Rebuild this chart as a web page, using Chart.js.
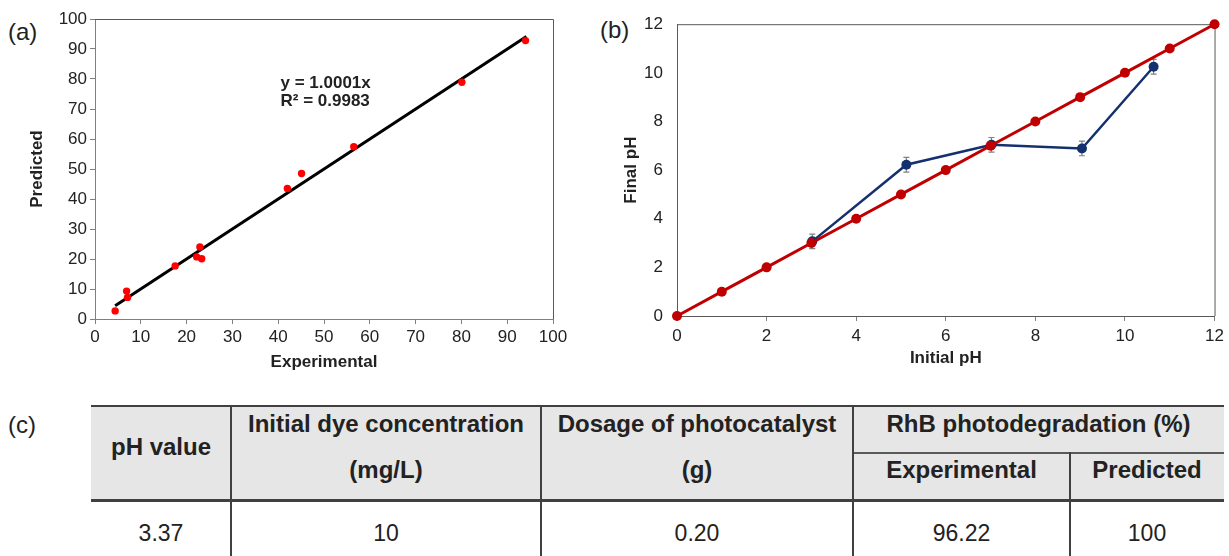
<!DOCTYPE html>
<html>
<head>
<meta charset="utf-8">
<script src="https://cdn.jsdelivr.net/npm/chart.js@4.4.1/dist/chart.umd.min.js"></script>
<style>
  body {
    margin: 0;
    width: 1229px;
    height: 556px;
    overflow: hidden;
    position: relative;
    background: #fff;
    font-family: "Liberation Sans", Arial, sans-serif;
    color: #222;
  }
  canvas { position: absolute; }
  .lbl { position: absolute; font-size: 24px; line-height: 1; }
  .t { position: absolute; white-space: nowrap; transform: translate(-50%, -50%); line-height: 1; font-size: 23px; }
  .b { font-weight: bold; font-size: 24px; }
  .line { position: absolute; background: #404040; }
</style>
</head>
<body>
<div class="lbl" style="left:8px;top:20px">(a)</div>
<div class="lbl" style="left:600px;top:18px">(b)</div>
<div class="lbl" style="left:8px;top:413px">(c)</div>

<canvas id="chartA" width="600" height="385" style="left:0;top:0"></canvas>
<canvas id="chartB" width="639" height="385" style="left:590px;top:0"></canvas>

<div id="table"></div>

<script>
// (a) predicted vs experimental
const expX = [4.4, 6.9, 7.1, 17.5, 22.2, 22.9, 23.3, 42.0, 45.1, 56.5, 80.1, 94.0];
const predY = [2.7, 9.3, 7.2, 17.7, 20.7, 24.0, 20.1, 43.5, 48.5, 57.4, 78.9, 92.8];
const fitX = [4.4, 94.2];
const fitY = [4.4, 94.2];
const ticksA = [0, 10, 20, 30, 40, 50, 60, 70, 80, 90, 100];

// (b) final pH vs initial pH
const refX = [0, 1, 2, 3, 4, 5, 6, 7, 8, 9, 10, 11, 12];
const refY = [0, 1, 2, 3, 4, 5, 6, 7, 8, 9, 10, 11, 12];
const initX = [3.02, 5.12, 7.02, 9.04, 10.64];
const finalY = [3.07, 6.22, 7.04, 6.89, 10.25];
const finalErr = [0.3, 0.3, 0.3, 0.3, 0.3];
const ticksB = [0, 2, 4, 6, 8, 10, 12];

// (c) table
const headTop = ["Initial dye concentration", "Dosage of photocatalyst", "RhB photodegradation (%)"];
const headSub = ["(mg/L)", "(g)", "Experimental", "Predicted"];
const rowVals = ["3.37", "10", "0.20", "96.22", "100"];

Chart.defaults.font.family = "'Liberation Sans', Arial, sans-serif";
Chart.defaults.color = "#222";

const frame = {
  id: "frame",
  beforeDatasetsDraw(chart) {
    const { ctx, chartArea: a } = chart;
    ctx.save();
    ctx.strokeStyle = "#595959";
    ctx.lineWidth = 1;
    ctx.beginPath();
    ctx.moveTo(a.left, a.top + 0.5);
    ctx.lineTo(a.right + 0.5, a.top + 0.5);
    ctx.lineTo(a.right + 0.5, a.bottom);
    ctx.stroke();
    ctx.restore();
  }
};

const pts = (xs, ys) => xs.map((x, i) => ({ x: x, y: ys[i] }));
const setTicks = (list) => (scale) => { scale.ticks = list.map(v => ({ value: v })); };

// equation text for chart (a)
const equation = {
  id: "equation",
  afterDatasetsDraw(chart) {
    const { ctx, scales } = chart;
    ctx.save();
    ctx.font = "bold 17px 'Liberation Sans', Arial, sans-serif";
    ctx.fillStyle = "#222";
    ctx.textBaseline = "middle";
    const x = scales.x.getPixelForValue(40.5);
    ctx.fillText("y = 1.0001x", x, scales.y.getPixelForValue(78.5));
    ctx.fillText("R\u00b2 = 0.9983", x, scales.y.getPixelForValue(72.5));
    ctx.restore();
  }
};

new Chart(document.getElementById("chartA"), {
  type: "scatter",
  data: {
    datasets: [
      {
        data: pts(expX, predY),
        backgroundColor: "#ff0000",
        borderColor: "#ff0000",
        pointRadius: 3.7,
        borderWidth: 0,
        order: 1
      },
      {
        type: "line",
        data: pts(fitX, fitY),
        borderColor: "#000",
        borderWidth: 3,
        pointRadius: 0,
        order: 2
      }
    ]
  },
  options: {
    responsive: false,
    animation: false,
    layout: { padding: { left: 0, top: 19, right: 47, bottom: 0 } },
    plugins: { legend: { display: false }, tooltip: { enabled: false } },
    scales: {
      x: {
        type: "linear",
        min: 0,
        max: 100,
        afterBuildTicks: setTicks(ticksA),
        afterFit: (s) => { s.height = 66; },
        grid: { drawOnChartArea: false, tickLength: 5, color: "#7f7f7f" },
        border: { color: "#7f7f7f" },
        ticks: { font: { size: 17 }, padding: 3, maxRotation: 0 },
        title: { display: true, text: "Experimental", font: { size: 17, weight: "bold" }, padding: { top: 0, bottom: 12 } }
      },
      y: {
        min: 0,
        max: 100,
        afterBuildTicks: setTicks(ticksA),
        afterFit: (s) => { s.width = 95; },
        grid: { drawOnChartArea: false, tickLength: 5, color: "#7f7f7f" },
        border: { color: "#7f7f7f" },
        ticks: { font: { size: 17 }, padding: 3 },
        title: { display: true, text: "Predicted", font: { size: 17, weight: "bold" }, padding: { top: 27, bottom: 0 } }
      }
    }
  },
  plugins: [frame, equation]
});

// error bars for chart (b)
const errorBars = {
  id: "errorBars",
  beforeDatasetsDraw(chart) {
    const { ctx, scales } = chart;
    ctx.save();
    ctx.strokeStyle = "#808080";
    ctx.lineWidth = 1.2;
    initX.forEach((x, i) => {
      const px = scales.x.getPixelForValue(x);
      const top = scales.y.getPixelForValue(finalY[i] + finalErr[i]);
      const bot = scales.y.getPixelForValue(finalY[i] - finalErr[i]);
      ctx.beginPath();
      ctx.moveTo(px, top);
      ctx.lineTo(px, bot);
      ctx.moveTo(px - 3, top);
      ctx.lineTo(px + 3, top);
      ctx.moveTo(px - 3, bot);
      ctx.lineTo(px + 3, bot);
      ctx.stroke();
    });
    ctx.restore();
  }
};

new Chart(document.getElementById("chartB"), {
  type: "scatter",
  data: {
    datasets: [
      {
        data: pts(refX, refY),
        showLine: true,
        borderColor: "#c00000",
        backgroundColor: "#c00000",
        borderWidth: 3,
        pointRadius: 5,
        pointBorderWidth: 0,
        clip: false,
        order: 1
      },
      {
        data: pts(initX, finalY),
        showLine: true,
        borderColor: "#14306e",
        backgroundColor: "#14306e",
        borderWidth: 2.5,
        pointRadius: 5,
        pointBorderWidth: 0,
        clip: false,
        order: 2
      }
    ]
  },
  options: {
    responsive: false,
    animation: false,
    layout: { padding: { left: 0, top: 19, right: 14, bottom: 0 } },
    plugins: { legend: { display: false }, tooltip: { enabled: false } },
    scales: {
      x: {
        type: "linear",
        min: 0,
        max: 12,
        afterBuildTicks: setTicks(ticksB),
        afterFit: (s) => { s.height = 69; },
        grid: { drawOnChartArea: false, tickLength: 5, color: "#7f7f7f" },
        border: { color: "#595959" },
        ticks: { font: { size: 17 }, padding: 5, maxRotation: 0 },
        title: { display: true, text: "Initial pH", font: { size: 17, weight: "bold" }, padding: { top: 0, bottom: 16 } }
      },
      y: {
        min: 0,
        max: 12,
        afterBuildTicks: setTicks(ticksB),
        afterFit: (s) => { s.width = 87; },
        grid: { drawOnChartArea: false, drawTicks: false },
        border: { color: "#595959" },
        ticks: { font: { size: 17 }, padding: 14 },
        title: { display: true, text: "Final pH", font: { size: 17, weight: "bold" }, padding: { top: 31, bottom: 0 } }
      }
    }
  },
  plugins: [frame, errorBars]
});

// table (c)
const tbl = document.getElementById("table");
const add = (html) => tbl.insertAdjacentHTML("beforeend", html);
const box = (l, t, w, h, c) => add(`<div class="line" style="left:${l}px;top:${t}px;width:${w}px;height:${h}px;background:${c}"></div>`);
const txt = (s, cx, cy, bold) => add(`<div class="t${bold ? " b" : ""}" style="left:${cx}px;top:${cy}px">${s}</div>`);

const colEdges = [91, 231, 541, 853, 1070, 1224];
const mid = (i) => (colEdges[i] + colEdges[i + 1]) / 2;

box(91, 407, 1133, 94, "#e6e6e6");
box(91, 405, 1133, 2, "#404040");
box(853, 452, 371, 2, "#595959");
box(91, 499, 1133, 3, "#404040");
[231, 541, 853].forEach(x => box(x - 1, 405, 1.5, 151, "#404040"));
box(1069, 452, 1.5, 104, "#404040");

txt("pH value", mid(0), 447, true);
txt(headTop[0], mid(1), 424, true);
txt(headSub[0], mid(1), 470, true);
txt(headTop[1], mid(2), 424, true);
txt(headSub[1], mid(2), 470, true);
txt(headTop[2], (colEdges[3] + colEdges[5]) / 2, 424, true);
txt(headSub[2], mid(3), 470, true);
txt(headSub[3], mid(4), 470, true);
rowVals.forEach((v, i) => txt(v, mid(i), 533, false));
</script>
</body>
</html>
